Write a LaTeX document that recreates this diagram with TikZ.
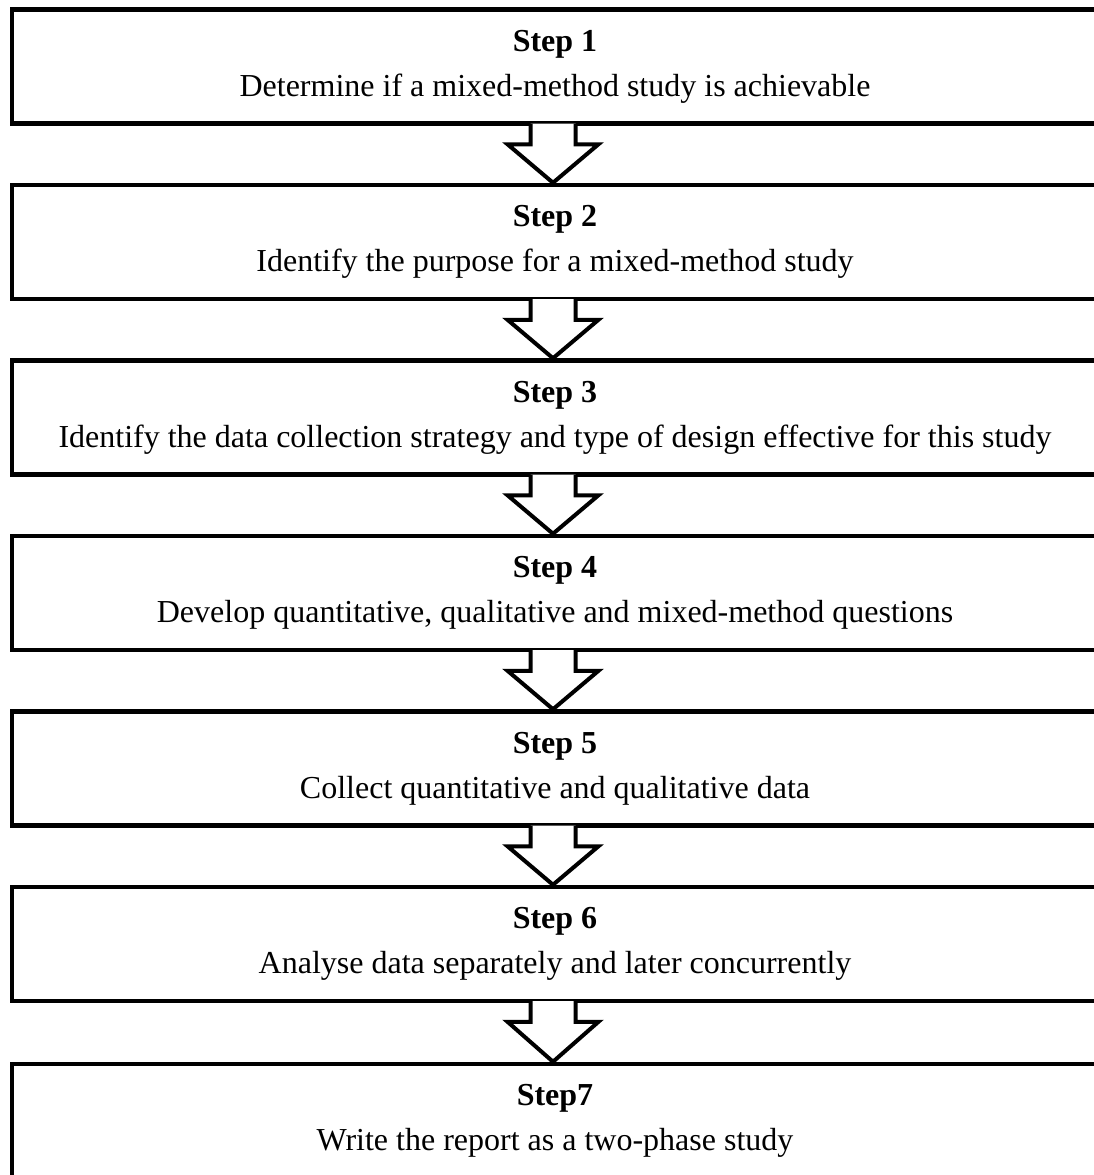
\documentclass[tikz,border=0pt]{standalone}
\usepackage{fontspec}
\setmainfont{Liberation Serif}
\usetikzlibrary{calc}

\begin{document}
\begin{tikzpicture}[x=1pt,y=-1pt]
	\useasboundingbox (0,0) rectangle (1093,1175);
	\begin{scope}[every node/.style = {draw, line width=4.5pt, inner sep=0pt,
		minimum width=1086pt, minimum height=114pt, align=center,
		font=\fontsize{32}{45}\selectfont}]
		\node (s1) at (555,66.5) {\textbf{Step 1}\\Determine if a mixed-method study is achievable};
		\node (s2) at (555,242) {\textbf{Step 2}\\Identify the purpose for a mixed-method study};
		\node (s3) at (555,417.5) {\textbf{Step 3}\\Identify the data collection strategy and type of design effective for this study};
		\node (s4) at (555,593) {\textbf{Step 4}\\Develop quantitative, qualitative and mixed-method questions};
		\node (s5) at (555,768.5) {\textbf{Step 5}\\Collect quantitative and qualitative data};
		\node (s6) at (555,944) {\textbf{Step 6}\\Analyse data separately and later concurrently};
		\node (s7) at (555,1121) {\textbf{Step7}\\Write the report as a two-phase study};
	\end{scope}
	\begin{scope}[every edge/.style={draw=black, line width=4pt, fill=white,
			to path={($(\tikztostart.south)+(-24.5,-2.25)$) -- ++(0,20.75) -- ++(-23,0)
				-- ($(\tikztotarget.north)+(-2,0)$) -- ($(\tikztostart.south)+(43.5,18.5)$)
				-- ++(-23,0) -- ++(0,-20.75)}}]
		\path (s1) edge (s2);
		\path (s2) edge (s3);
		\path (s3) edge (s4);
		\path (s4) edge (s5);
		\path (s5) edge (s6);
		\path (s6) edge (s7);
	\end{scope}
\end{tikzpicture}
\end{document}
